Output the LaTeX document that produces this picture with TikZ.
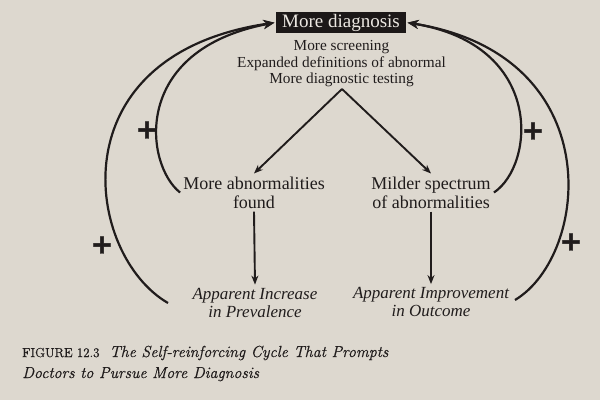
\documentclass[tikz,border=0pt]{standalone}
\usepackage{fontspec}
\newfontfamily\dia{Liberation Serif}
\newfontfamily\plusfont[FakeBold=1.6]{DejaVu Sans}
\newfontfamily\capfont[FakeBold=0.6]{Latin Modern Roman}
\usetikzlibrary{arrows.meta,calc}
\definecolor{bg}{RGB}{221,216,207}
\definecolor{ink}{RGB}{32,28,28}
\definecolor{boxc}{RGB}{28,24,24}
\definecolor{boxtext}{RGB}{236,232,226}
\begin{document}
\begin{tikzpicture}[x=1pt,y=-1pt,
  every node/.style={text=ink},
  topbox/.style={fill=boxc, text=boxtext, font=\dia\fontsize{19}{19}\selectfont,
    inner xsep=6.5pt, inner ysep=0pt, minimum height=21.5pt},
  sublbl/.style={font=\dia\fontsize{15.3}{16.5}\selectfont, align=center, inner sep=1pt},
  lbl/.style={font=\dia\fontsize{18}{19}\selectfont, align=center, inner sep=3pt},
  ital/.style={font=\dia\itshape\fontsize{17}{18}\selectfont, align=center, inner sep=3pt},
  arr/.style={draw=ink, line width=1.9pt, -{Stealth[length=9pt,width=7pt]}},
  loopline/.style={draw=ink, line width=2.2pt, -{Stealth[length=11pt,width=9pt]}, shorten >=1pt},
  plus/.style={font=\plusfont\bfseries\fontsize{27}{27}\selectfont, inner sep=0pt},
  captxt/.style={anchor=base west, inner sep=0pt, font=\capfont\fontsize{16}{20}\selectfont}]
\useasboundingbox (0,0) rectangle (600,400);
\fill[bg] (0,0) rectangle (600,400);

\node[topbox] (md) at (341,22.5) {More diagnosis};
\node[sublbl] (sub) at (341.5,64) {More screening\\Expanded definitions of abnormal\\More diagnostic testing};
\coordinate (apex) at (342,89);

\node[lbl] (abn) at (254,192.5) {More abnormalities\\found};
\node[lbl] (mil) at (431,192.5) {Milder spectrum\\of abnormalities};
\node[ital] (inc) at (255,302.5) {Apparent Increase\\in Prevalence};
\node[ital] (imp) at (431,302) {Apparent Improvement\\in Outcome};

\draw[arr] (apex) -- (abn.north);
\draw[arr] (apex) -- (mil.north);
\draw[arr] (abn.south) -- (inc.north);
\draw[arr] (mil.south) -- (imp.north);

\coordinate (lo) at (168,303);
\coordinate (ro) at (515,300);

\draw[loopline] (abn.west) .. controls (145,165) and (130,50) .. (md.west);
\draw[loopline] (lo) .. controls (85,255) and (55,55) .. (md.west);
\draw[loopline] (mil.east) .. controls (535,165) and (545,45) .. (md.east);
\draw[loopline] (ro) .. controls (590,255) and (610,55) .. (md.east);

\node[plus] (p1) at (147,130) {+};
\node[plus] (p2) at (102,245) {+};
\node[plus] (p3) at (533,131) {+};
\node[plus] (p4) at (571,242) {+};

\node[captxt] (c1) at (22,357) {{\fontsize{13}{13}\selectfont FIGURE 12.3}\hspace{10pt}\textit{The Self-reinforcing Cycle That Prompts}};
\node[captxt] (c2) at (22,378) {\textit{Doctors to Pursue More Diagnosis}};
\end{tikzpicture}
\end{document}
